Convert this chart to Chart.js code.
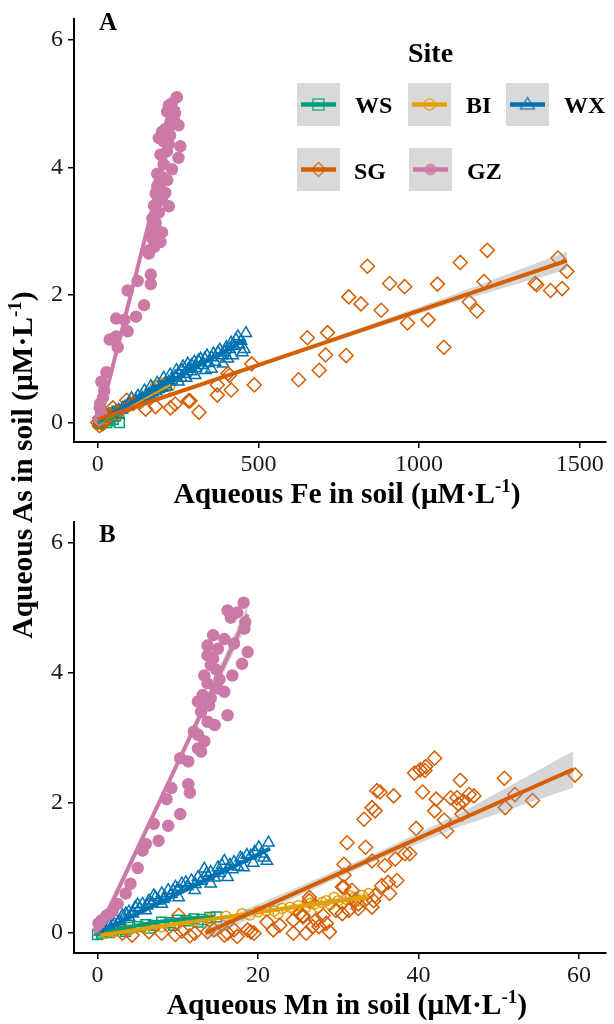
<!DOCTYPE html>
<html lang="en">
<head>
<meta charset="UTF-8">
<title>Aqueous As vs aqueous Fe and Mn in soil</title>
<script src="https://cdn.jsdelivr.net/npm/chart.js"></script>
<style>
  body { margin: 0; background: #fff; }
  #wrap { position: relative; width: 614px; height: 1024px; font-family: "Liberation Serif", "Times New Roman", serif; }
  #wrap canvas { position: absolute; left: 0; }
  .ttl { position: absolute; font-weight: bold; font-size: 29.5px; line-height: 29px; white-space: nowrap; text-align: center; color: #000; }
  .ttl sup { font-size: 19px; vertical-align: 0; position: relative; top: -11px; }
  .xt { left: 77px; width: 540px; }
  #yt { left: -276px; width: 600px; top: 449px; transform: rotate(-90deg); }
</style>
</head>
<body>
<div id="wrap">
  <canvas id="chartA" width="614" height="500" style="top:0"></canvas>
  <canvas id="chartB" width="614" height="524" style="top:500px"></canvas>
  <div class="ttl xt" style="top:479px">Aqueous Fe in soil (μM·L<sup>-1</sup>)</div>
  <div class="ttl xt" style="top:990px">Aqueous Mn in soil (μM·L<sup>-1</sup>)</div>
  <div class="ttl" id="yt">Aqueous As in soil (μM·L<sup>-1</sup>)</div>
</div>

<script>
// ---- data ----
const sites = ['WS', 'BI', 'WX', 'SG', 'GZ'];

const feTicks = [0, 500, 1000, 1500];
const mnTicks = [0, 20, 40, 60];
const asTicks = [0, 2, 4, 6];

// panel A: Fe (x) vs As (y)
const wsA = [[2,0.0],[5,0.02],[8,-0.02],[12,0.05],[15,0.0],[20,0.08],[25,0.05],[30,0.1],[35,0.07],[40,0.12],[45,0.1],[50,0.15],[55,0.1],[60,0.18],[67,0.0],[65,0.14],[10,0.1],[28,0.0],[38,0.03],[48,0.05]];
const biA = [[5,0.02],[15,0.04],[25,0.06],[35,0.1],[45,0.12],[55,0.15],[65,0.17],[75,0.2],[85,0.22],[95,0.25],[105,0.27],[115,0.3],[125,0.33],[135,0.35],[145,0.38],[155,0.4],[165,0.45],[175,0.5],[185,0.55],[195,0.6],[205,0.62],[215,0.6],[225,0.58],[180,0.58],[200,0.55],[190,0.52],[210,0.5],[170,0.42],[150,0.36],[130,0.3]];
const wxA = [[461,1.40],[436,1.35],[446,1.28],[425,1.20],[410,1.15],[395,1.10],[374,1.10],[354,1.02],[333,1.00],[313,0.97],[292,0.90],[282,0.84],[262,0.82],[251,0.77],[241,0.72],[221,0.64],[200,0.56],[180,0.49],[159,0.44],[139,0.39],[119,0.34],[98,0.31],[78,0.23],[57,0.18],
  [456,1.15],[405,1.00],[354,0.84],[303,0.74],[251,0.64],[200,0.54],[149,0.41],[98,0.29],[47,0.13],
  [440,1.22],[420,1.05],[385,1.05],[365,0.95],[345,0.93],[325,0.90],[305,0.85],[290,0.80],[270,0.76],[260,0.70],[230,0.66],[210,0.60],[190,0.52],[170,0.47],[130,0.36],[110,0.30],[85,0.25],[65,0.20],[30,0.10],[15,0.06],[5,0.02],
  [430,1.30],[415,1.25],[400,1.18],[380,1.14],[360,1.08],[340,1.05],[320,1.00],[300,0.95],[280,0.92],[265,0.88],[245,0.82],[225,0.75],[205,0.70],[185,0.62],[165,0.57],[145,0.50],[125,0.42],[105,0.38],[450,1.10],[390,0.92],[335,0.82],[275,0.70],[215,0.56],[160,0.45],[120,0.32],[75,0.20]];
const sgA = [[1212,2.70],[1128,2.51],[839,2.45],[1432,2.58],[1460,2.37],[1361,2.18],[1366,2.16],[1409,2.07],[1445,2.10],[1202,2.21],[1156,1.89],[1180,1.75],[1057,2.17],[1028,1.61],[1077,1.18],[955,2.13],[908,2.18],[964,1.56],[882,1.76],[781,1.97],[819,1.86],[715,1.41],[652,1.33],[709,1.06],[773,1.05],[689,0.82],[625,0.67],[479,0.92],[487,0.59],[410,0.74],[415,0.51],[372,0.43],[372,0.59],[315,0.16],[287,0.34],[405,0.77],[282,0.34],[226,0.23],[241,0.29],[149,0.21],[90,0.35],[110,0.30],[47,0.23],[7,0.07],[0,0.0],[15,-0.02],[25,0.05],[35,0.12],[5,-0.05],[20,0.10],[60,0.15],[180,0.25]];
const gzA = [[246,5.10],[221,4.97],[231,4.92],[216,4.87],[236,4.76],[226,4.71],[251,4.66],[200,4.56],[211,4.51],[190,4.46],[205,4.41],[221,4.36],[257,4.33],[251,4.15],[231,3.97],[185,3.90],[216,3.80],[180,3.59],[200,3.52],[221,3.39],[190,3.29],[180,3.13],[200,2.98],[170,2.88],[195,2.83],[159,2.65],[165,2.32],[165,2.17],[124,2.22],[93,2.07],[144,1.84],[119,1.66],[83,1.61],[57,1.63],[57,1.35],[37,1.30],[93,1.43],[62,1.18],[27,0.79],[11,0.64],[16,0.39],[6,0.23],[11,0.13],
  [195,4.20],[205,4.05],[185,3.70],[195,3.65],[210,3.60],[175,3.40],[185,3.45],[170,3.20],[180,3.05],[165,2.95],[175,2.75],[160,2.70],[210,4.60],[225,4.50],[240,4.85],[230,5.00],[200,3.85],[190,3.75],[215,4.25],[180,2.90],[5,0.05],[8,0.30],[20,0.50]];

// panel B: Mn (x) vs As (y)
const wsB = [[0,-0.02],[0.5,0.0],[1,0.03],[1.5,0.01],[2,0.05],[3,0.06],[4,0.09],[5,0.1],[6,0.13],[7,0.12],[8,0.17],[9,0.16],[10,0.2],[11,0.19],[12,0.22],[13,0.21],[14,0.24],[14.8,0.25],[3.5,0.03],[6.5,0.08],[9.5,0.12],[12.5,0.17]];
const biB = [[1,0.0],[2,0.02],[4,0.05],[6,0.08],[8,0.1],[10,0.15],[12,0.18],[14,0.22],[16,0.26],[18,0.3],[19,0.28],[20,0.33],[21,0.35],[22,0.34],[23,0.38],[24,0.4],[25,0.42],[26,0.4],[27,0.45],[28,0.47],[29,0.44],[30,0.5],[31,0.52],[32,0.55],[33,0.58],[33.8,0.61],[32.5,0.5],[30.5,0.45],[28.5,0.5],[26.5,0.46],[24.5,0.36],[29.5,0.55],[31.5,0.57],[27.5,0.4],[22.5,0.3]];
const wxB = [[21.3,1.39],[20.1,1.32],[20.7,1.16],[19.1,1.19],[18.0,1.14],[17.0,1.09],[15.8,1.11],[15.0,1.01],[14.1,0.94],[13.3,0.99],[12.5,0.86],[11.7,0.81],[10.5,0.76],[9.7,0.71],[8.8,0.66],[8.0,0.61],[7.2,0.55],[6.4,0.50],[5.6,0.45],[4.7,0.40],[3.9,0.33],[3.1,0.27],[2.3,0.20],[1.5,0.12],[0.65,0.05],
  [21.1,1.11],[18.2,1.01],[16.2,0.86],[14.1,0.76],[12.1,0.66],[10.1,0.55],[8.0,0.45],[6.0,0.35],[3.9,0.25],[1.9,0.12],
  [19.6,1.25],[18.6,1.20],[17.5,1.02],[16.5,1.05],[15.2,0.92],[13.8,0.88],[12.9,0.80],[11.2,0.72],[10.0,0.68],[9.2,0.60],[8.4,0.55],[7.6,0.50],[6.8,0.46],[5.2,0.38],[4.4,0.30],[2.7,0.18],[1.0,0.06],[0.3,0.02],
  [20.4,1.22],[19.4,1.08],[17.8,1.16],[16.8,0.98],[15.5,1.04],[14.6,0.85],[13.6,0.92],[12.2,0.75],[11.0,0.78],[9.4,0.65],[8.2,0.52],[7.0,0.58],[6.2,0.42],[5.0,0.44],[3.5,0.30],[2.0,0.16]];
const sgB = [[42.0,2.69],[40.9,2.56],[40.2,2.51],[39.5,2.46],[40.8,2.50],[45.2,2.35],[50.7,2.38],[59.5,2.43],[52.0,2.13],[54.2,2.04],[50.8,1.93],[44.0,2.08],[44.8,2.08],[45.6,2.03],[46.9,2.11],[46.3,2.13],[40.5,2.17],[42.2,2.06],[42.0,1.88],[45.0,1.98],[45.4,1.83],[43.2,1.74],[43.5,1.57],[39.7,1.61],[38.9,1.22],[35.2,2.17],[34.8,2.19],[36.9,2.11],[34.2,1.93],[34.6,1.88],[33.2,1.75],[31.1,1.39],[33.4,1.32],[30.7,1.06],[34.2,1.11],[35.8,1.04],[37.1,1.14],[38.3,1.22],[30.7,0.89],[31.7,0.66],[30.7,0.71],[36.2,0.78],[37.3,0.81],[36.4,0.61],[34.6,0.58],[35.4,0.73],[32.1,0.50],[31.3,0.35],[30.5,0.30],[32.5,0.38],[34.2,0.40],[34.4,0.50],[26.4,0.50],[25.2,0.30],[25.6,0.25],[27.6,0.10],[27.2,0.20],[28.9,0.02],[28.5,0.15],[26.0,0.0],[30.5,0.71],[26.4,0.55],[25.6,0.27],[24.4,0.20],[22.7,0.12],[21.1,0.17],[21.9,0.05],[19.5,0.0],[18.7,0.05],[17.4,-0.05],[17.0,0.05],[16.2,0.0],[24.4,0.0],[26.8,0.10],[28.1,0.27],[29.7,0.35],[32.5,0.45],[3.1,0.0],[4.3,-0.03],[6.4,0.02],[8.0,0.0],[9.7,-0.02],[10.5,0.03],[12.1,0.0],[13.7,0.02],[15.8,-0.03],[19.1,0.02],[10.1,0.27],[14.5,0.05],[11.5,-0.04]];
const gzB = [[18.2,5.08],[16.2,4.96],[17.4,4.93],[16.6,4.85],[18.3,4.68],[18.4,4.78],[18.7,4.32],[18.0,4.14],[16.8,3.96],[14.4,4.58],[15.8,4.52],[13.7,4.42],[15.0,4.37],[13.7,4.27],[14.4,4.22],[14.1,4.12],[13.3,3.96],[13.7,3.84],[12.5,3.56],[13.1,3.66],[15.0,3.76],[15.8,3.71],[14.1,3.61],[16.2,3.35],[12.9,3.40],[13.7,3.25],[12.5,3.05],[13.3,2.95],[12.5,2.84],[12.9,2.79],[11.3,2.64],[10.3,2.69],[11.3,2.29],[11.5,2.16],[9.2,2.23],[8.6,2.06],[10.3,1.83],[8.8,1.65],[7.6,1.42],[7.0,1.68],[6.0,1.37],[5.6,1.27],[4.1,0.76],[3.5,0.61],[1.9,0.35],[1.1,0.27],[0.1,0.15],[0.25,0.05],
  [14.8,4.05],[13.9,3.50],[15.2,3.90],[12.0,3.10],[17.0,4.45],[14.6,3.20],[2.5,0.45],[0.5,0.2],[1.5,0.3],[5.0,1.0]];

// fitted lines
const wsFitA = [[0,0.0],[67,0.14]];
const biFitA = [[5,0.02],[225,0.6]];
const wxFitA = [[5,0.03],[460,1.30]];
const sgFitA = [[0,0.05],[1460,2.54]];
const gzFitA = [[5,0.05],[250,4.95]];
const sgBandA_x  = [0, 300, 700, 1100, 1460];
const sgBandA_hi = [0.10, 0.59, 1.27, 1.99, 2.68];
const sgBandA_lo = [0.00, 0.53, 1.21, 1.87, 2.40];

const wsFitB = [[-0.2,-0.03],[2,0.04],[5,0.12],[8,0.18],[11,0.22],[14.6,0.25]];
const biFitB = [[0.3,-0.03],[33.5,0.56]];
const wxFitB = [[0.3,0.02],[21.5,1.30]];
const sgFitB = [[13.4,0.0],[59.3,2.52]];
const gzFitB = [[0.2,0.05],[18.7,4.9]];
const sgBandB_x  = [13.4, 25, 35, 45, 59.3];
const sgBandB_hi = [0.10, 0.71, 1.25, 1.83, 2.80];
const sgBandB_lo = [-0.10, 0.57, 1.13, 1.63, 2.24];
const biBandB_x  = [0.3, 17, 33.5];
const biBandB_hi = [0.02, 0.29, 0.62];
const biBandB_lo = [-0.07, 0.25, 0.51];
const gzBandB_x  = [0.2, 9, 18.7];
const gzBandB_hi = [0.15, 2.40, 5.05];
const gzBandB_lo = [-0.05, 2.32, 4.75];

// ---- styling ----
const col = { WS: '#009E73', BI: '#E69F00', WX: '#0072B2', SG: '#D55E00', GZ: '#CC79A7' };
const FONT = '"Liberation Serif", "Times New Roman", serif';
const bandFill = 'rgba(153,153,153,0.4)';

const pts = a => a.map(p => ({ x: p[0], y: p[1] }));
const zip = (xs, ys) => xs.map((x, i) => ({ x, y: ys[i] }));

function pointSet(data, site, style, r, filled, order) {
  return {
    type: 'scatter', data: pts(data), pointStyle: style, pointRadius: r,
    borderWidth: 1.5, borderColor: col[site],
    backgroundColor: filled ? col[site] : 'rgba(0,0,0,0)', order
  };
}
function fitLine(data, site, order, curved) {
  return {
    type: 'line', data: pts(data), borderColor: col[site], borderWidth: 4,
    pointRadius: 0, fill: false, tension: curved ? 0.4 : 0, cubicInterpolationMode: curved ? 'monotone' : 'default', order
  };
}
function band(xs, hi, lo) {
  return [
    { type: 'line', data: zip(xs, hi), borderColor: 'rgba(0,0,0,0)', borderWidth: 0, pointRadius: 0, fill: '+1', backgroundColor: bandFill, order: 8 },
    { type: 'line', data: zip(xs, lo), borderColor: 'rgba(0,0,0,0)', borderWidth: 0, pointRadius: 0, fill: false, order: 8 }
  ];
}

function axes(xMin, xMax, xTicks, xH) {
  const tickFont = { family: FONT, size: 24 };
  return {
    x: {
      type: 'linear', min: xMin, max: xMax,
      afterBuildTicks: s => { s.ticks = xTicks.map(v => ({ value: v })); },
      afterFit: s => { s.height = xH; },
      grid: { drawOnChartArea: false, drawTicks: true, tickLength: 6, color: '#000', lineWidth: 1.5 },
      border: { display: true, color: '#000', width: 2 },
      ticks: { font: tickFont, color: '#1a1a1a', padding: 2, maxRotation: 0, callback: v => String(v) }
    },
    y: {
      type: 'linear', min: -0.305, max: 6.32,
      afterBuildTicks: s => { s.ticks = asTicks.map(v => ({ value: v })); },
      afterFit: s => { s.width = 74; },
      grid: { drawOnChartArea: false, drawTicks: true, tickLength: 6, color: '#000', lineWidth: 1.5 },
      border: { display: true, color: '#000', width: 2 },
      ticks: { font: tickFont, color: '#1a1a1a', padding: 5, callback: v => String(v) }
    }
  };
}

// panel letter + custom legend
function drawMarker(ctx, kind, x, y, c) {
  ctx.strokeStyle = c; ctx.fillStyle = c; ctx.lineWidth = 1.5;
  ctx.beginPath();
  if (kind === 'rect') ctx.rect(x - 5.5, y - 5.5, 11, 11);
  else if (kind === 'circle') ctx.arc(x, y, 5.5, 0, Math.PI * 2);
  else if (kind === 'triangle') { ctx.moveTo(x, y - 7); ctx.lineTo(x + 7, y + 4.5); ctx.lineTo(x - 7, y + 4.5); ctx.closePath(); }
  else if (kind === 'rectRot') { ctx.moveTo(x, y - 7); ctx.lineTo(x + 7, y); ctx.lineTo(x, y + 7); ctx.lineTo(x - 7, y); ctx.closePath(); }
  else if (kind === 'dot') ctx.arc(x, y, 6, 0, Math.PI * 2);
  if (kind === 'dot') ctx.fill(); else ctx.stroke();
}
const decor = {
  id: 'decor',
  afterDraw(chart, args, o) {
    const ctx = chart.ctx;
    ctx.save();
    ctx.fillStyle = '#000';
    ctx.textBaseline = 'alphabetic';
    ctx.font = 'bold 25px ' + FONT;
    ctx.fillText(o.letter, 99, o.letterY);
    if (o.legend) {
      ctx.font = 'bold 28px ' + FONT;
      ctx.fillText('Site', 408, 62);
      const keys = [
        { s: 'WS', m: 'rect',     bx: 297, by: 83,  tx: 355, ty: 113 },
        { s: 'BI', m: 'circle',   bx: 408, by: 83,  tx: 466, ty: 113 },
        { s: 'WX', m: 'triangle', bx: 506, by: 83,  tx: 564, ty: 113 },
        { s: 'SG', m: 'rectRot',  bx: 297, by: 148, tx: 354, ty: 179 },
        { s: 'GZ', m: 'dot',      bx: 409, by: 148, tx: 467, ty: 179 }
      ];
      keys.forEach(k => {
        ctx.fillStyle = '#d9d9d9';
        ctx.fillRect(k.bx, k.by, 43, 43);
        const cy = k.by + 21.5;
        ctx.strokeStyle = col[k.s]; ctx.lineWidth = 4.5;
        ctx.beginPath(); ctx.moveTo(k.bx + 4, cy); ctx.lineTo(k.bx + 39, cy); ctx.stroke();
        ctx.globalAlpha = 0.75;
        drawMarker(ctx, k.m, k.bx + 21.5, cy, col[k.s]);
        ctx.globalAlpha = 1;
        ctx.fillStyle = '#000';
        ctx.font = 'bold 24px ' + FONT;
        ctx.fillText(k.s, k.tx, k.ty);
      });
    }
    ctx.restore();
  }
};

function datasets(p, f, bands) {
  return [
    pointSet(p.ws, 'WS', 'rect', 7, false, 14),
    pointSet(p.bi, 'BI', 'circle', 5, false, 13),
    pointSet(p.wx, 'WX', 'triangle', 6.5, false, 12),
    pointSet(p.sg, 'SG', 'rectRot', 7, false, 11),
    pointSet(p.gz, 'GZ', 'circle', 5.5, true, 10),
    ...bands,
    fitLine(f.ws, 'WS', 5, f.wsCurved),
    fitLine(f.bi, 'BI', 4),
    fitLine(f.wx, 'WX', 3),
    fitLine(f.gz, 'GZ', 2),
    fitLine(f.sg, 'SG', 1)
  ];
}

const common = {
  responsive: false, animation: false, events: [],
  plugins: { legend: { display: false }, tooltip: { enabled: false } }
};

new Chart(document.getElementById('chartA'), {
  type: 'scatter',
  data: { datasets: datasets(
    { ws: wsA, bi: biA, wx: wxA, sg: sgA, gz: gzA },
    { ws: wsFitA, bi: biFitA, wx: wxFitA, sg: sgFitA, gz: gzFitA },
    band(sgBandA_x, sgBandA_hi, sgBandA_lo)) },
  options: Object.assign({}, common, {
    layout: { padding: { top: 8, right: 0, left: 0, bottom: 0 } },
    scales: axes(-74, 1580, feTicks, 58),
    plugins: Object.assign({}, common.plugins, { decor: { letter: 'A', letterY: 30, legend: true } })
  }),
  plugins: [decor]
});

new Chart(document.getElementById('chartB'), {
  type: 'scatter',
  data: { datasets: datasets(
    { ws: wsB, bi: biB, wx: wxB, sg: sgB, gz: gzB },
    { ws: wsFitB, wsCurved: true, bi: biFitB, wx: wxFitB, sg: sgFitB, gz: gzFitB },
    [...band(sgBandB_x, sgBandB_hi, sgBandB_lo), ...band(biBandB_x, biBandB_hi, biBandB_lo), ...band(gzBandB_x, gzBandB_hi, gzBandB_lo)]) },
  options: Object.assign({}, common, {
    layout: { padding: { top: 22, right: 0, left: 0, bottom: 0 } },
    scales: axes(-2.94, 63.3, mnTicks, 71),
    plugins: Object.assign({}, common.plugins, { decor: { letter: 'B', letterY: 42, legend: false } })
  }),
  plugins: [decor]
});
</script>
</body>
</html>
